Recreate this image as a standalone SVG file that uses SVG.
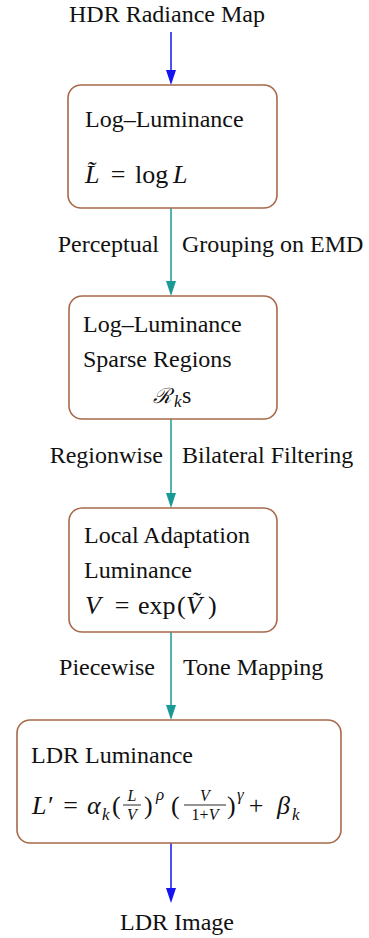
<svg xmlns="http://www.w3.org/2000/svg" width="369" height="938" viewBox="0 0 369 938">
  <style>
    .t { font-family: "Liberation Serif", "DejaVu Serif", serif; font-size: 24px; fill: #111111; }
    .r { font-family: "Liberation Serif", "DejaVu Serif", serif; font-size: 26px; fill: #111111; }
    .m { font-family: "Liberation Serif", "DejaVu Serif", serif; font-size: 26px; fill: #111111; font-style: italic; }
    .s { font-family: "Liberation Serif", "DejaVu Serif", serif; font-size: 17px; fill: #111111; font-style: italic; }
    .f { font-family: "Liberation Serif", "DejaVu Serif", serif; font-size: 16px; fill: #111111; }
    .box { fill: #ffffff; stroke: #a8694a; stroke-width: 1.6; }
    .blue { stroke: #1414f0; stroke-width: 1.5; fill: none; }
    .teal { stroke: #1a9a96; stroke-width: 1.5; fill: none; }
    .bar { stroke: #111111; stroke-width: 0.9; }
  </style>

  <!-- connectors: vertical shafts with filled triangular heads -->
  <g id="connectors">
    <line class="blue" x1="171" y1="32" x2="171" y2="72"/>
    <path d="M166,70 L176,70 L171,85 Z" fill="#1414f0"/>
    <line class="teal" x1="171" y1="208" x2="171" y2="283"/>
    <path d="M166,281 L176,281 L171,296 Z" fill="#1a9a96"/>
    <line class="teal" x1="171" y1="419" x2="171" y2="495"/>
    <path d="M166,493 L176,493 L171,508 Z" fill="#1a9a96"/>
    <line class="teal" x1="171" y1="632" x2="171" y2="707"/>
    <path d="M166,705 L176,705 L171,720 Z" fill="#1a9a96"/>
    <line class="blue" x1="171" y1="843" x2="171" y2="890"/>
    <path d="M166,888 L176,888 L171,903 Z" fill="#1414f0"/>

    <text class="t" x="159" y="252" text-anchor="end">Perceptual</text>
    <text class="t" x="182" y="252">Grouping on EMD</text>
    <text class="t" x="163" y="463" text-anchor="end">Regionwise</text>
    <text class="t" x="182" y="463">Bilateral Filtering</text>
    <text class="t" x="155" y="675" text-anchor="end">Piecewise</text>
    <text class="t" x="183" y="675">Tone Mapping</text>
  </g>

  <!-- input / output terminals -->
  <g id="hdr-input">
    <text class="t" x="167" y="22" text-anchor="middle">HDR Radiance Map</text>
  </g>
  <g id="ldr-output">
    <text class="t" x="177" y="930" text-anchor="middle">LDR Image</text>
  </g>

  <!-- log-luminance -->
  <g id="log-luminance">
    <rect class="box" x="68" y="85" width="209" height="123" rx="13"/>
    <text class="t" x="85" y="127">Log–Luminance</text>
    <text class="m" x="85" y="183">L̃</text>
    <text class="r" x="118" y="183" text-anchor="middle">=</text>
    <text class="r" x="135" y="183">log</text>
    <text class="m" x="173" y="183">L</text>
  </g>

  <!-- sparse regions -->
  <g id="sparse-regions">
    <rect class="box" x="69" y="296" width="208" height="123" rx="13"/>
    <text class="t" x="83" y="332">Log–Luminance</text>
    <text class="t" x="83" y="367">Sparse Regions</text>
    <text class="m" x="153" y="403" style="font-family:'DejaVu Serif',serif;font-size:21px">ℛ</text>
    <text class="s" x="174" y="407">k</text>
    <text class="t" x="182" y="403">s</text>
  </g>

  <!-- local adaptation luminance -->
  <g id="local-adaptation">
    <rect class="box" x="69" y="508" width="208" height="124" rx="13"/>
    <text class="t" x="84" y="543">Local Adaptation</text>
    <text class="t" x="84" y="578">Luminance</text>
    <text class="m" x="85" y="614">V</text>
    <text class="r" x="122" y="614" text-anchor="middle">=</text>
    <text class="r" x="138" y="614">exp</text>
    <text class="r" x="177" y="614">(</text>
    <text class="m" x="186" y="614">Ṽ</text>
    <text class="r" x="208" y="614">)</text>
  </g>

  <!-- ldr luminance -->
  <g id="ldr-luminance">
    <rect class="box" x="17" y="720" width="324" height="123" rx="13"/>
    <text class="t" x="31" y="763">LDR Luminance</text>
    <text class="m" x="32" y="814">L′</text>
    <text class="r" x="70.5" y="814" text-anchor="middle">=</text>
    <text class="m" x="87" y="814">α</text>
    <text class="s" x="102" y="820">k</text>
    <text class="r" x="112" y="814">(</text>
    <text class="f" x="132" y="801" font-style="italic" text-anchor="middle">L</text>
    <line class="bar" x1="123" y1="805" x2="141" y2="805"/>
    <text class="f" x="132" y="820" font-style="italic" text-anchor="middle">V</text>
    <text class="r" x="144" y="814">)</text>
    <text class="s" x="156" y="800">ρ</text>
    <text class="r" x="171" y="814">(</text>
    <text class="f" x="205" y="801" font-style="italic" text-anchor="middle">V</text>
    <line class="bar" x1="184" y1="805" x2="226" y2="805"/>
    <text class="f" x="205" y="820" text-anchor="middle">1+<tspan font-style="italic">V</tspan></text>
    <text class="r" x="227" y="814">)</text>
    <text class="s" x="237" y="800">γ</text>
    <text class="r" x="256" y="814" text-anchor="middle">+</text>
    <text class="m" x="277" y="814">β</text>
    <text class="s" x="292" y="820">k</text>
  </g>
</svg>
